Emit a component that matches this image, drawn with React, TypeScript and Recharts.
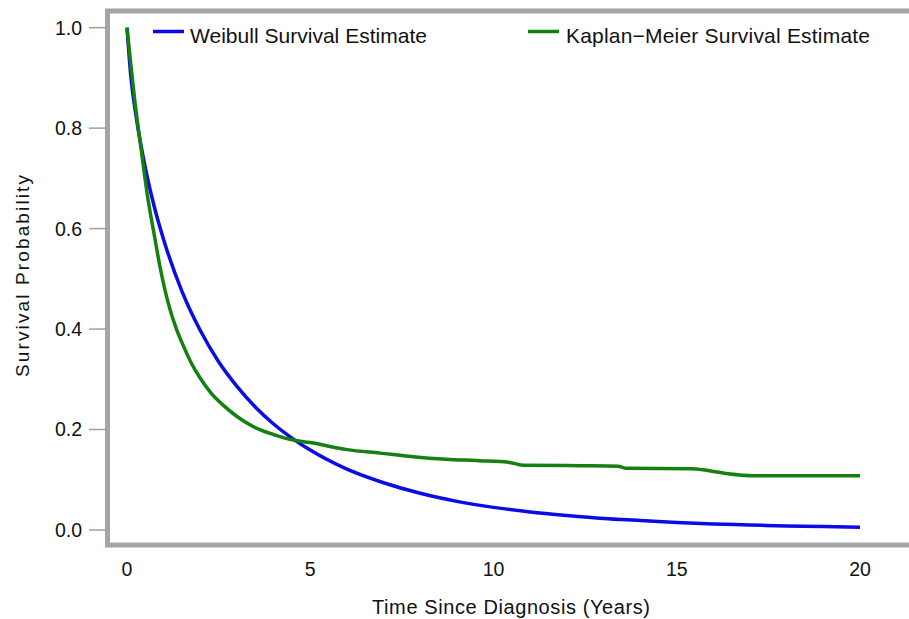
import React from 'react';
import { LineChart, Line, XAxis, YAxis, ReferenceArea, Legend, Label } from 'recharts';

// Weibull survival estimate
const weibullTime = [0, 0.1, 0.25, 0.5, 0.75, 1, 1.5, 2, 2.5, 3, 3.5, 4, 4.5, 5, 6, 7, 8, 9, 10, 11, 12, 13, 14, 15, 16, 17, 18, 19, 20];
const weibullSurvival = [1.0, 0.907, 0.823, 0.721, 0.642, 0.578, 0.475, 0.397, 0.335, 0.286, 0.245, 0.211, 0.183, 0.159, 0.121, 0.094, 0.073, 0.057, 0.045, 0.036, 0.029, 0.023, 0.019, 0.015, 0.012, 0.010, 0.008, 0.007, 0.0055];

// Kaplan-Meier survival estimate
const kmTime = [0, 0.1, 0.22, 0.4, 0.57, 0.75, 0.9, 1.17, 1.35, 1.53, 1.75, 2.0, 2.3, 2.6, 3.0, 3.44, 4.0, 4.53, 5.0, 6.0, 6.9, 7.8, 8.7, 9.6, 10.4, 10.8, 12.4, 13.4, 13.6, 15.4, 15.8, 16.4, 17.1, 20];
const kmSurvival = [1.0, 0.93, 0.85, 0.75, 0.66, 0.585, 0.524, 0.44, 0.40, 0.368, 0.333, 0.302, 0.272, 0.25, 0.226, 0.206, 0.19, 0.179, 0.174, 0.16, 0.153, 0.146, 0.141, 0.138, 0.135, 0.129, 0.128, 0.127, 0.123, 0.122, 0.119, 0.112, 0.108, 0.108];

const xTicks = [0, 5, 10, 15, 20];
const yTicks = [0, 0.2, 0.4, 0.6, 0.8, 1.0];

const seriesNames = ['Weibull Survival Estimate', 'Kaplan\u2212Meier Survival Estimate'];
const xTitle = 'Time Since Diagnosis (Years)';
const yTitle = 'Survival Probability';

const weibullData = weibullTime.map((t, i) => ({ t, s: weibullSurvival[i] }));
const kmData = kmTime.map((t, i) => ({ t, s: kmSurvival[i] }));

const FONT = '"Liberation Sans", Arial, Helvetica, sans-serif';
const BLUE = '#0b0be6';
const GREEN = '#13800f';
const FRAME = '#a3a6a9';

const X0 = -0.532;
const X1 = 21.337;
const Y0 = -0.0299;
const Y1 = 1.0332;

const XTitle = () => (
  <text x={511} y={614} textAnchor="middle" fontFamily={FONT} fontSize={20} fill="#111" textLength={278} lengthAdjust="spacing">
    {xTitle}
  </text>
);

const YTitle = () => (
  <text x={29} y={276} transform="rotate(-90, 29, 276)" textAnchor="middle" fontFamily={FONT} fontSize={19} fill="#111" textLength={202} lengthAdjust="spacing">
    {yTitle}
  </text>
);

const legendLayout = [
  { lx: 153, tx: 190, len: 237 },
  { lx: 528, tx: 566, len: 304 },
];

const renderLegend = (props: any) => {
  const payload = [...(props.payload || [])].sort(
    (a: any, b: any) => seriesNames.indexOf(a.value) - seriesNames.indexOf(b.value)
  );
  return (
    <svg width={909} height={50} style={{ display: 'block' }}>
      {payload.map((p: any, i: number) => {
        const L = legendLayout[i] || legendLayout[0];
        return (
          <g key={i}>
            <line x1={L.lx} x2={L.lx + 31} y1={31.5} y2={31.5} stroke={p.color} strokeWidth={3.5} />
            <text x={L.tx} y={43} fontFamily={FONT} fontSize={21} fill="#111" textLength={L.len} lengthAdjust="spacing">
              {p.value}
            </text>
          </g>
        );
      })}
    </svg>
  );
};

export default function App() {
  return (
    <div style={{ position: 'absolute', left: 0, top: 0, width: 909, height: 619, background: '#fff' }}>
      <LineChart width={909} height={619} margin={{ top: 11, right: 0, bottom: 0, left: 0 }}>
        <XAxis
          type="number"
          dataKey="t"
          domain={[X0, X1]}
          ticks={xTicks}
          allowDataOverflow
          interval={0}
          axisLine={false}
          tickLine={false}
          tickSize={6}
          tickMargin={11}
          height={74}
          tick={{ fontSize: 19.5, fill: '#111', fontFamily: FONT }}
        >
          <Label content={XTitle} />
        </XAxis>
        <YAxis
          type="number"
          domain={[Y0, Y1]}
          ticks={yTicks}
          allowDataOverflow
          interval={0}
          width={107.5}
          axisLine={false}
          tickLine={{ stroke: '#a0a0a0', strokeWidth: 1.5 }}
          tickSize={18.5}
          tickMargin={7}
          tickFormatter={(v: number) => v.toFixed(1)}
          tick={{ fontSize: 19.5, fill: '#111', fontFamily: FONT }}
        >
          <Label content={YTitle} />
        </YAxis>
        <ReferenceArea x1={X0} x2={X1 + 1} y1={Y0} y2={Y1} ifOverflow="visible" fill="none" fillOpacity={0} stroke={FRAME} strokeWidth={5} />
        <Line data={weibullData} dataKey="s" name={seriesNames[0]} type="monotone" stroke={BLUE} strokeWidth={3.5} dot={false} activeDot={false} isAnimationActive={false} />
        <Line data={kmData} dataKey="s" name={seriesNames[1]} type="monotone" stroke={GREEN} strokeWidth={3.5} dot={false} activeDot={false} isAnimationActive={false} />
        <Legend
          verticalAlign="middle"
          align="center"
          layout="horizontal"
          content={renderLegend}
          wrapperStyle={{ position: 'absolute', left: 0, top: 0, width: 909, height: 50 }}
        />
      </LineChart>
    </div>
  );
}
